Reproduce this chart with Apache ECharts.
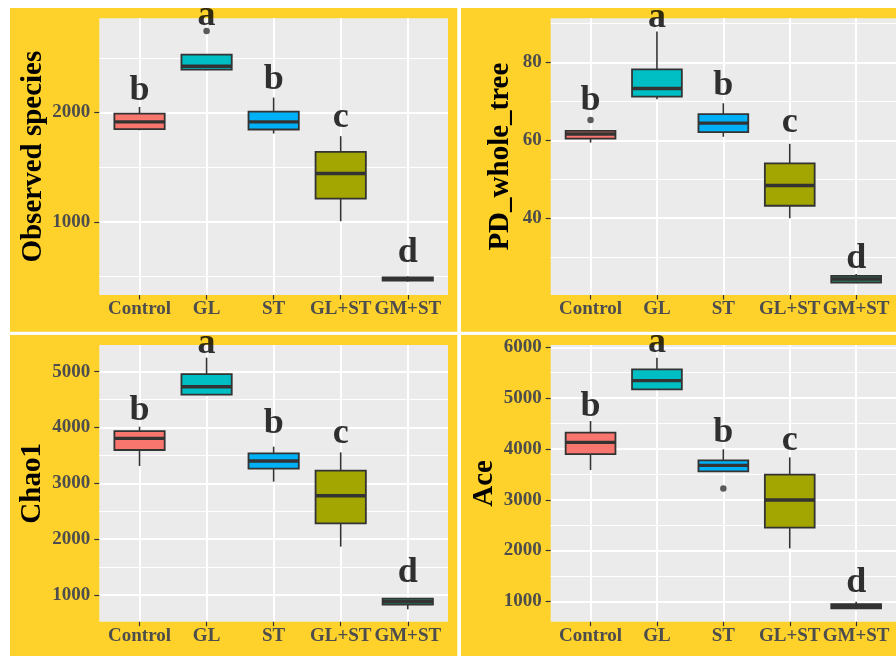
<!DOCTYPE html>
<html>
<head>
<meta charset="utf-8">
<script src="https://cdn.jsdelivr.net/npm/echarts@6/dist/echarts.min.js"></script>
<style>
html,body{margin:0;padding:0;background:#fff;}
#chart{width:896px;height:656px;}
</style>
</head>
<body>
<div id="chart"></div>
<script>
// ---------- data ----------
const categories = ['Control', 'GL', 'ST', 'GL+ST', 'GM+ST'];
const letters = ['b', 'a', 'b', 'c', 'd'];

// each row: [lower whisker, Q1, median, Q3, upper whisker]
const obsStats = [
  [1838, 1848, 1915, 1991, 2052],
  [2387, 2393, 2424, 2531, 2531],
  [1808, 1845, 1915, 2009, 2137],
  [1006, 1213, 1442, 1640, 1784],
  [452, 462, 478, 492, 500]
];
const obsOutliers = [[2, 2747]];
const obsLetterY = [2104, 2790, 2198, 1854, 619];
const obsTicks = [1000, 2000];
const obsMinor = [500, 1500, 2500];
const obsRange = [330, 2863];

const pdStats = [
  [59.4, 60.4, 61.6, 62.4, 62.4],
  [70.5, 71.2, 73.3, 78.2, 87.9],
  [60.9, 62.1, 64.4, 66.7, 69.5],
  [40.0, 43.2, 48.4, 54.1, 59.1],
  [23.3, 23.5, 24.4, 25.2, 25.7]
];
const pdOutliers = [[1, 65.2]];
const pdLetterY = [67.4, 88.7, 71.2, 61.8, 26.8];
const pdTicks = [40, 60, 80];
const pdMinor = [30, 50, 70, 90];
const pdRange = [20.3, 91.3];

const chaoStats = [
  [3310, 3597, 3806, 3937, 4015],
  [4576, 4588, 4731, 4958, 5251],
  [3030, 3263, 3400, 3537, 3657],
  [1866, 2284, 2779, 3227, 3555],
  [743, 827, 881, 934, 934]
];
const chaoOutliers = [];
const chaoLetterY = [4104, 5310, 3866, 3687, 1209];
const chaoTicks = [1000, 2000, 3000, 4000, 5000];
const chaoMinor = [1500, 2500, 3500, 4500];
const chaoRange = [522, 5478];

const aceStats = [
  [3585, 3900, 4130, 4320, 4550],
  [5170, 5173, 5344, 5567, 5797],
  [3550, 3559, 3677, 3776, 3992],
  [2043, 2450, 2995, 3493, 3835],
  [843, 862, 902, 947, 993]
];
const aceOutliers = [[3, 3224]];
const aceLetterY = [4622, 5882, 4110, 3946, 1157];
const aceTicks = [1000, 2000, 3000, 4000, 5000, 6000];
const aceMinor = [1500, 2500, 3500, 4500, 5500];
const aceRange = [600, 6046];

// ---------- styles ----------
const fillColors = ['#F8766D', '#00BFC4', '#00B0F6', '#A3A500', '#2A8060'];
const FONT = "'Liberation Serif', 'Times New Roman', serif";
const YELLOW = '#FED22B';
const BOX_W = 0.75;

const panels = [
  {title: 'Observed species', stats: obsStats, outliers: obsOutliers, letterY: obsLetterY, ticks: obsTicks, minor: obsMinor, range: obsRange,
   grid: {left: 99.3, top: 18.3, width: 348.7, height: 276.7}, nameGap: 51},
  {title: 'PD_whole_tree', stats: pdStats, outliers: pdOutliers, letterY: pdLetterY, ticks: pdTicks, minor: pdMinor, range: pdRange,
   grid: {left: 550.7, top: 18.3, width: 349, height: 276.7}, nameGap: 36},
  {title: 'Chao1', stats: chaoStats, outliers: chaoOutliers, letterY: chaoLetterY, ticks: chaoTicks, minor: chaoMinor, range: chaoRange,
   grid: {left: 99.3, top: 345, width: 348.7, height: 276.7}, nameGap: 52},
  {title: 'Ace', stats: aceStats, outliers: aceOutliers, letterY: aceLetterY, ticks: aceTicks, minor: aceMinor, range: aceRange,
   grid: {left: 550.7, top: 345, width: 349, height: 276.7}, nameGap: 52}
];

const catPos = categories.map((c, i) => i + 1);

function renderBox(params, api) {
  const x = api.value(0);
  const lw = api.coord([x, api.value(1)]);
  const q1 = api.coord([x, api.value(2)]);
  const md = api.coord([x, api.value(3)]);
  const q3 = api.coord([x, api.value(4)]);
  const uw = api.coord([x, api.value(5)]);
  const half = api.size([BOX_W, 0])[0] / 2;
  const cx = md[0];
  const line = {stroke: '#333333', lineWidth: 1.6};
  return {
    type: 'group',
    children: [
      {type: 'line', shape: {x1: cx, y1: uw[1], x2: cx, y2: q3[1]}, style: line},
      {type: 'line', shape: {x1: cx, y1: q1[1], x2: cx, y2: lw[1]}, style: line},
      {type: 'rect', shape: {x: cx - half, y: q3[1], width: 2 * half, height: q1[1] - q3[1]},
       style: {fill: fillColors[params.dataIndex], stroke: '#333333', lineWidth: 1.8}},
      {type: 'line', shape: {x1: cx - half, y1: md[1], x2: cx + half, y2: md[1]},
       style: {stroke: '#333333', lineWidth: 3.4}}
    ]
  };
}

const grids = [], xAxes = [], yAxes = [], series = [];
panels.forEach((p, i) => {
  grids.push(Object.assign({show: true, backgroundColor: '#EBEBEB', borderWidth: 0, containLabel: false}, p.grid));
  xAxes.push({
    type: 'value', gridIndex: i, min: 0.4, max: 5.6,
    axisLine: {show: false},
    axisTick: {show: true, customValues: catPos, length: 4.5, lineStyle: {color: '#333333', width: 1.2}},
    axisLabel: {customValues: catPos, formatter: v => categories[Math.round(v) - 1], margin: 5,
      fontFamily: FONT, fontWeight: 'bold', fontSize: 19, color: '#4D4D4D'},
    splitLine: {show: true, lineStyle: {color: '#FFFFFF', width: 2}}
  });
  yAxes.push({
    type: 'value', gridIndex: i, min: p.range[0], max: p.range[1], position: 'left',
    name: p.title, nameLocation: 'middle', nameGap: p.nameGap,
    nameTextStyle: {fontFamily: FONT, fontWeight: 'bold', fontSize: 29, color: '#000000'},
    axisLine: {show: false},
    axisTick: {show: true, customValues: p.ticks, length: 5, lineStyle: {color: '#333333', width: 1.2}},
    axisLabel: {customValues: p.ticks, formatter: v => String(v), margin: 9,
      fontFamily: FONT, fontWeight: 'bold', fontSize: 19, color: '#4D4D4D'},
    splitLine: {show: true, lineStyle: {color: '#FFFFFF', width: 2}}
  });
  yAxes.push({
    type: 'value', gridIndex: i, min: p.range[0], max: p.range[1], position: 'right',
    axisLine: {show: false},
    axisTick: {show: false, customValues: p.minor},
    axisLabel: {show: false, customValues: p.minor},
    splitLine: {show: true, lineStyle: {color: '#FFFFFF', width: 1}}
  });
  series.push({
    type: 'custom', xAxisIndex: i, yAxisIndex: 2 * i, silent: true,
    renderItem: renderBox,
    encode: {x: 0, y: [1, 2, 3, 4, 5]},
    data: p.stats.map((s, k) => [catPos[k]].concat(s)),
    z: 3
  });
  if (p.outliers.length) {
    series.push({
      type: 'scatter', xAxisIndex: i, yAxisIndex: 2 * i, silent: true,
      symbol: 'circle', symbolSize: 6.5, itemStyle: {color: '#333333'},
      data: p.outliers, z: 4
    });
  }
  series.push({
    type: 'scatter', xAxisIndex: i, yAxisIndex: 2 * i, silent: true,
    symbolSize: 1, itemStyle: {color: 'transparent'},
    data: p.letterY.map((y, k) => [catPos[k], y]),
    label: {show: true, position: 'inside', offset: [0, -11],
      formatter: q => letters[q.dataIndex],
      fontFamily: FONT, fontWeight: 'bold', fontSize: 36, color: '#000000'},
    z: 5
  });
});

const chart = echarts.init(document.getElementById('chart'), null, {renderer: 'canvas'});
chart.setOption({
  backgroundColor: '#FFFFFF',
  animation: false,
  graphic: [
    {type: 'rect', z: -100, shape: {x: 10, y: 8, width: 447.3, height: 323.7}, style: {fill: YELLOW}},
    {type: 'rect', z: -100, shape: {x: 461, y: 8, width: 435, height: 323.7}, style: {fill: YELLOW}},
    {type: 'rect', z: -100, shape: {x: 10, y: 335, width: 447.3, height: 321}, style: {fill: YELLOW}},
    {type: 'rect', z: -100, shape: {x: 461, y: 335, width: 435, height: 321}, style: {fill: YELLOW}}
  ],
  grid: grids,
  xAxis: xAxes,
  yAxis: yAxes,
  series: series
});
</script>
</body>
</html>
